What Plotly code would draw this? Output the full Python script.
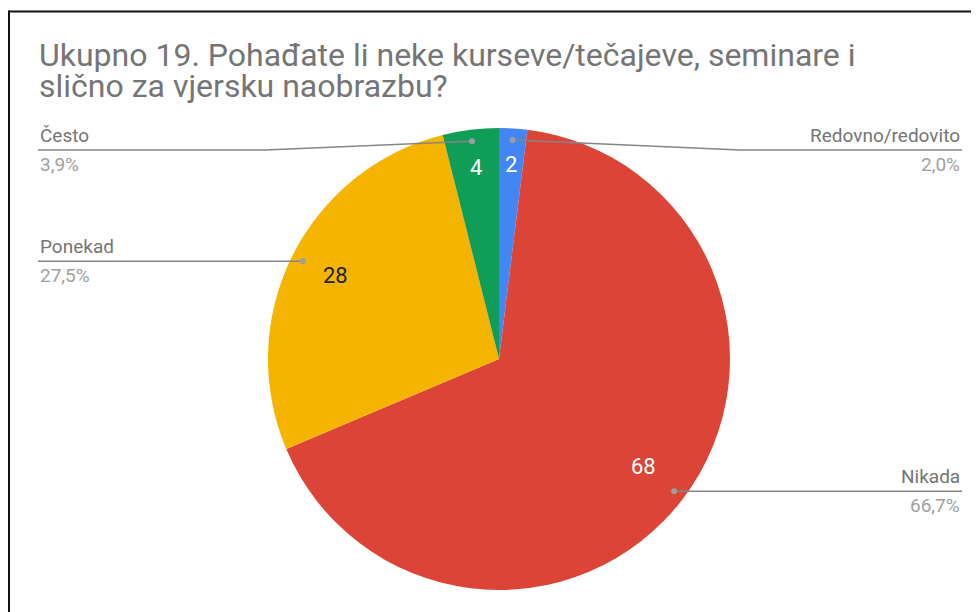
import math
import plotly.graph_objects as go

# ---- data ----
labels = ["Redovno/redovito", "Nikada", "Ponekad", "Često"]
values = [2, 68, 28, 4]
pct_labels = ["2,0%", "66,7%", "27,5%", "3,9%"]
colors = ["#4285F4", "#DB4437", "#F4B400", "#0F9D58"]
text_colors = ["#FFFFFF", "#FFFFFF", "#222222", "#FFFFFF"]
title_lines = ["Ukupno 19. Pohađate li neke kurseve/tečajeve, seminare i",
               "slično za vjersku naobrazbu?"]

# page is offset by the default 8px body margin
OFF = 8
W, H = 979 - OFF, 612 - OFF
CX, CY, R = 499, 359, 231


def px(x):
    return (x - OFF) / W


def py(y):
    return 1 - (y - OFF) / H


fig = go.Figure(go.Pie(
    labels=labels,
    values=values,
    sort=False,
    direction="clockwise",
    rotation=0,
    marker=dict(colors=colors, line=dict(width=0)),
    textinfo="none",
    showlegend=False,
    hoverinfo="label+value+percent",
    domain=dict(x=[px(CX - R), px(CX + R)], y=[py(CY + R), py(CY - R)]),
))

# label layout: side, line y (px), elbow x (px), radial fraction of value text
label_layout = {
    "Redovno/redovito": ("right", 150, 740, 0.835),
    "Nikada": ("right", None, None, 0.785),
    "Ponekad": ("left", None, None, 0.79),
    "Često": ("left", 150, 265, 0.825),
}
LEFT_X, RIGHT_X = 38, 962

shapes = []
annotations = []
total = sum(values)
cum = 0
for lab, val, pct, tc in zip(labels, values, pct_labels, text_colors):
    mid = (cum + val / 2) / total * 2 * math.pi
    cum += val
    side, ly, ex, rf = label_layout[lab]
    # value text inside slice
    tx = CX + rf * R * math.sin(mid)
    ty = CY - rf * R * math.cos(mid)
    annotations.append(dict(text=str(val), x=px(tx), y=py(ty - 2), xref="paper", yref="paper",
                            xanchor="center", yanchor="middle", showarrow=False,
                            font=dict(family="Roboto", size=22, color=tc)))
    # leader line
    dx = CX + 0.95 * R * math.sin(mid)
    dy = CY - 0.95 * R * math.cos(mid)
    if ly is None:
        ly = dy
    end_x = RIGHT_X if side == "right" else LEFT_X
    if ex is None:
        path = f"M {px(dx)},{py(dy)} L {px(end_x)},{py(ly)}"
    else:
        path = f"M {px(dx)},{py(dy)} L {px(ex)},{py(ly)} L {px(end_x)},{py(ly)}"
    shapes.append(dict(type="path", path=path, xref="paper", yref="paper",
                       line=dict(color="#858585", width=1.5)))
    shapes.append(dict(type="circle", xref="paper", yref="paper",
                       x0=px(dx - 3), x1=px(dx + 3), y0=py(dy + 3), y1=py(dy - 3),
                       fillcolor="#9E9E9E", line=dict(width=0)))
    anchor = "right" if side == "right" else "left"
    annotations.append(dict(text=lab, x=px(end_x), y=py(ly - 1), xref="paper", yref="paper",
                            xanchor=anchor, yanchor="bottom", showarrow=False,
                            font=dict(family="Roboto", size=19, color="#757575")))
    annotations.append(dict(text=pct, x=px(end_x), y=py(ly + 1), xref="paper", yref="paper",
                            xanchor=anchor, yanchor="top", showarrow=False,
                            font=dict(family="Roboto", size=19, color="#A0A0A0")))

# title (two lines, tight spacing)
title_y = [55.5, 85.5]
for line, ty in zip(title_lines, title_y):
    annotations.append(dict(text=line, x=px(37), y=py(ty), xref="paper", yref="paper",
                            xanchor="left", yanchor="middle", showarrow=False,
                            font=dict(family="Roboto", size=32, color="#757575")))

# frame lines (screenshot border)
shapes.append(dict(type="line", xref="paper", yref="paper", x0=px(9), x1=px(9),
                   y0=py(10.5), y1=0, line=dict(color="#111111", width=2)))
shapes.append(dict(type="line", xref="paper", yref="paper", x0=px(8), x1=1,
                   y0=py(11.5), y1=py(11.5), line=dict(color="#111111", width=2)))

fig.update_layout(
    width=W, height=H,
    margin=dict(l=0, r=0, t=0, b=0),
    paper_bgcolor="white",
    plot_bgcolor="white",
    shapes=shapes,
    annotations=annotations,
    font=dict(family="Roboto"),
)

fig.write_html("out.html")
